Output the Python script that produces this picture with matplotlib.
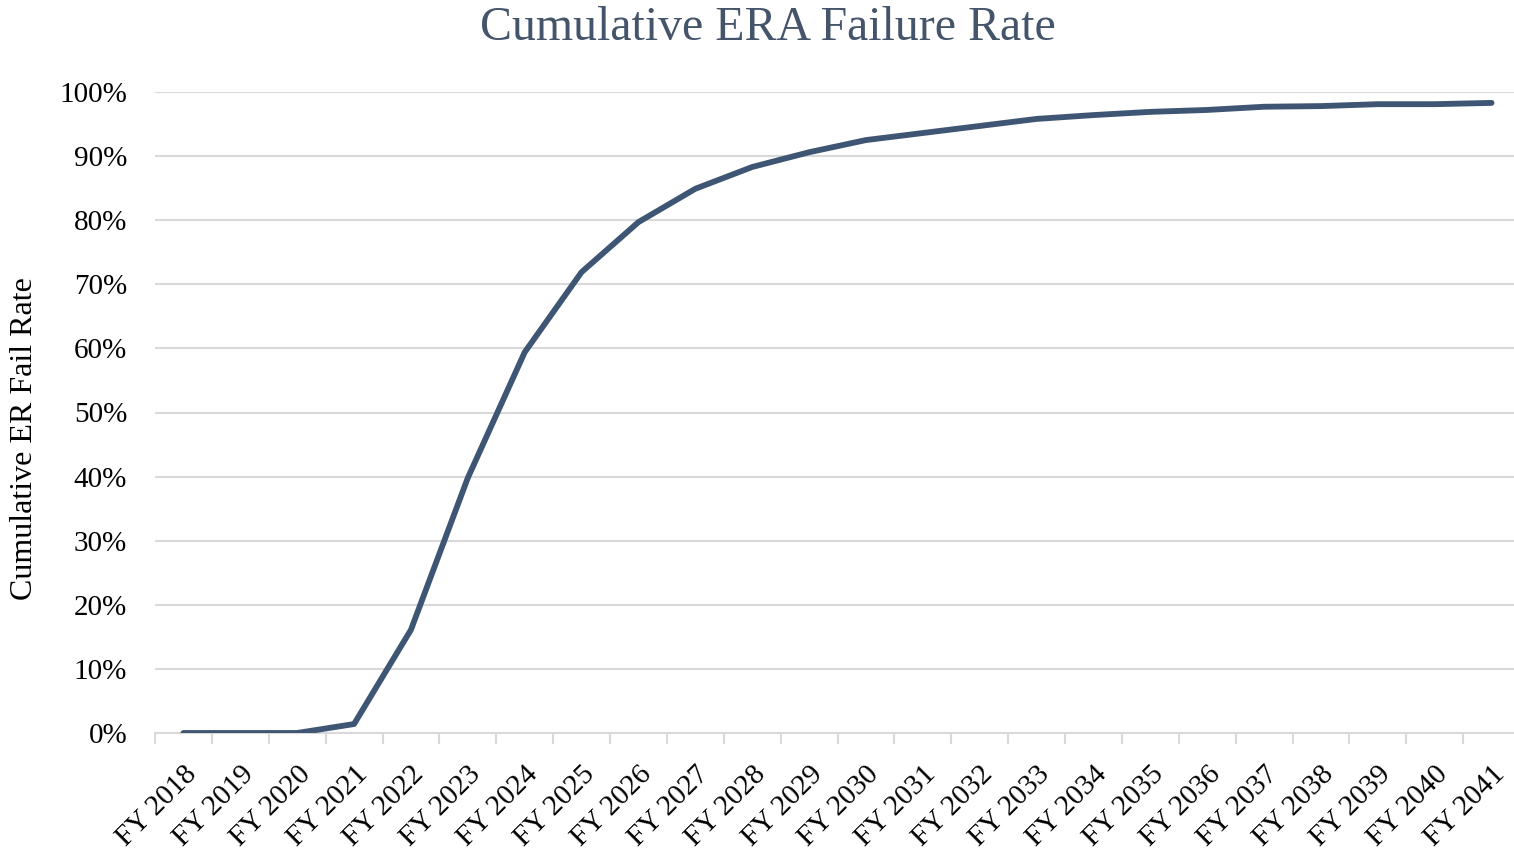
import matplotlib
matplotlib.use("Agg")
import matplotlib.pyplot as plt
import matplotlib.transforms as mtransforms
import numpy as np
from matplotlib.ticker import PercentFormatter, FixedLocator

years = [f"FY {y}" for y in range(2018, 2042)]
fail_rate = [0.0, 0.0, 0.0, 1.4, 16.1, 39.8, 59.4, 71.9, 79.7, 84.9, 88.3, 90.6,
             92.5, 93.6, 94.7, 95.8, 96.4, 96.9, 97.2, 97.7, 97.8, 98.1, 98.1, 98.3]

plt.rcParams['font.family'] = ['Liberation Serif', 'DejaVu Serif']

W, H = 1514, 849
fig = plt.figure(figsize=(W / 100, H / 100), dpi=100)
left, right, top, bottom = 155, 1520, 92, 733
ax = fig.add_axes([left / W, 1 - bottom / H, (right - left) / W, (bottom - top) / H])

x = np.arange(len(years))
line_color = '#3E5674'
ax.plot(x, fail_rate, color=line_color, lw=4.2, solid_capstyle='round', solid_joinstyle='round', zorder=3)

ax.set_xlim(-0.5, len(years) - 0.5)
ax.set_ylim(0, 100)
ax.set_yticks(np.arange(0, 101, 10))
ax.yaxis.set_major_formatter(PercentFormatter(decimals=0))
ax.grid(axis='y', color='#D9D9D9', lw=1.5)
ax.set_axisbelow(True)

ax.set_xticks(x)
ax.set_xticklabels(years, rotation=45, ha='right', rotation_mode='anchor', fontsize=21)
offset = mtransforms.ScaledTranslation(-6 / 100, 3 / 100, fig.dpi_scale_trans)
for lbl in ax.get_xticklabels():
    lbl.set_transform(lbl.get_transform() + offset)
ax.xaxis.set_minor_locator(FixedLocator(np.arange(-0.5, len(years), 1.0)))
ax.tick_params(axis='x', which='major', length=0, pad=20)
ax.tick_params(axis='x', which='minor', length=8, width=1.5, color='#D9D9D9')
ax.tick_params(axis='y', length=0, labelsize=21, pad=20)

for s in ['top', 'right', 'left']:
    ax.spines[s].set_visible(False)
ax.spines['bottom'].set_color('#D9D9D9')
ax.spines['bottom'].set_linewidth(1.5)

fig.text(25 / W, 1 - 439 / H, 'Cumulative ER Fail Rate', fontsize=23,
         rotation=90, ha='center', va='center')
fig.text(768 / W, 1 - 28 / H, 'Cumulative ERA Failure Rate', fontsize=34.5,
         color='#44546A', ha='center', va='center')

fig.savefig('out.png', dpi=100)
